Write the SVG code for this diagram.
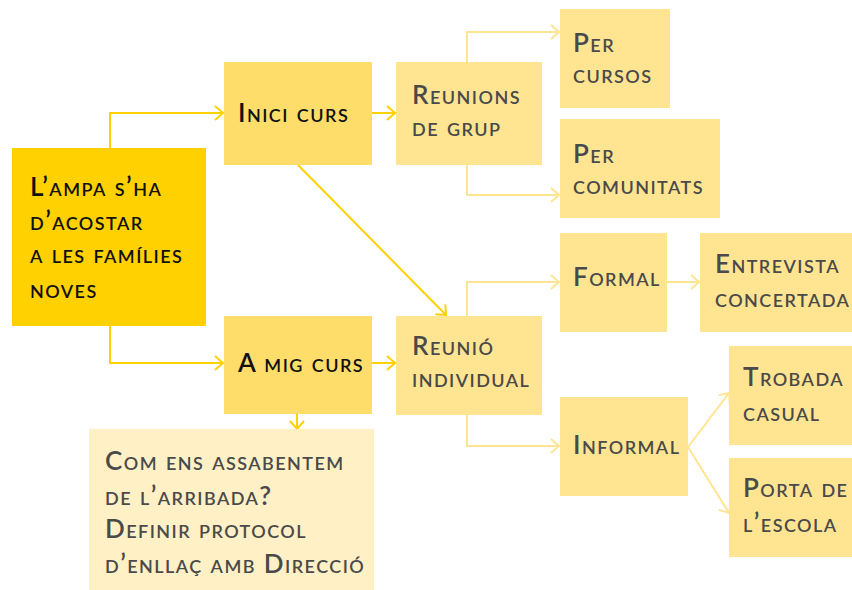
<svg xmlns="http://www.w3.org/2000/svg" width="852" height="590" viewBox="0 0 852 590">
<style>
text{font-family:Lato,"Open Sans",sans-serif;font-variant:small-caps;font-size:26px;font-weight:600;fill:#4a4a4a;letter-spacing:1.45px}
.dk{fill:#111}
.c1{fill:none;stroke:#FFD100;stroke-width:2}
.c2{fill:none;stroke:#FFE592;stroke-width:2}
.n0{fill:#FFD100}.n1{fill:#FFDD6A}.n2{fill:#FFE592}.n3{fill:#FFF0C6}
</style>
<defs>
<marker id="a1" markerUnits="userSpaceOnUse" markerWidth="20" markerHeight="20" refX="10" refY="10" orient="auto"><path d="M2,3 L10,10 L2,17" fill="none" stroke="#FFD100" stroke-width="2"/></marker>
<marker id="a2" markerUnits="userSpaceOnUse" markerWidth="20" markerHeight="20" refX="10" refY="10" orient="auto"><path d="M2,3 L10,10 L2,17" fill="none" stroke="#FFE592" stroke-width="2"/></marker>
</defs>
<g id="connectors">
<path class="c1" d="M110,148 V113 H223" marker-end="url(#a1)"/>
<path class="c1" d="M110,326 V363 H223" marker-end="url(#a1)"/>
<path class="c1" d="M372,113 H395" marker-end="url(#a1)"/>
<path class="c1" d="M372,363 H395" marker-end="url(#a1)"/>
<path class="c1" d="M298,165 L446,315" marker-end="url(#a1)"/>
<path class="c1" d="M297,414 V429" marker-end="url(#a1)"/>
<path class="c2" d="M467,62 V32 H559" marker-end="url(#a2)"/>
<path class="c2" d="M467,165 V195 H559" marker-end="url(#a2)"/>
<path class="c2" d="M467,316 V282 H559" marker-end="url(#a2)"/>
<path class="c2" d="M467,415 V446 H559" marker-end="url(#a2)"/>
<path class="c2" d="M667,282 H699" marker-end="url(#a2)"/>
<path class="c2" d="M688,447 L729,393" marker-end="url(#a2)"/>
<path class="c2" d="M688,447 L729,513" marker-end="url(#a2)"/>
</g>
<g id="main"><rect class="n0" x="12" y="148" width="194" height="178"/>
<text class="dk" x="30" y="196">L’ampa s’ha</text><text class="dk" x="30" y="230">d’acostar</text><text class="dk" x="30" y="263">a les famílies</text><text class="dk" x="30" y="298">noves</text></g>
<g id="inici"><rect class="n1" x="224" y="62" width="148" height="103"/><text class="dk" x="238" y="122">Inici curs</text></g>
<g id="amig"><rect class="n1" x="224" y="316" width="148" height="98"/><text class="dk" x="238" y="372">A mig curs</text></g>
<g id="reunions"><rect class="n2" x="396" y="62" width="146" height="103"/><text x="412" y="104">Reunions</text><text x="412" y="136">de grup</text></g>
<g id="percursos"><rect class="n2" x="560" y="9" width="110" height="99"/><text x="573" y="52">Per</text><text x="573" y="83">cursos</text></g>
<g id="percomunitats"><rect class="n2" x="560" y="119" width="160" height="99"/><text x="573" y="163">Per</text><text x="573" y="194">comunitats</text></g>
<g id="reunio"><rect class="n2" x="396" y="316" width="146" height="99"/><text x="412" y="355">Reunió</text><text x="412" y="387">individual</text></g>
<g id="formal"><rect class="n2" x="560" y="233" width="107" height="99"/><text x="573" y="286">Formal</text></g>
<g id="entrevista"><rect class="n2" x="700" y="233" width="152" height="99"/><text x="715" y="273">Entrevista</text><text x="715" y="307">concertada</text></g>
<g id="informal"><rect class="n2" x="560" y="397" width="128" height="99"/><text x="573" y="454">Informal</text></g>
<g id="trobada"><rect class="n2" x="729" y="346" width="123" height="99"/><text x="743" y="386">Trobada</text><text x="743" y="421">casual</text></g>
<g id="porta"><rect class="n2" x="729" y="458" width="123" height="99"/><text x="743" y="497">Porta de</text><text x="743" y="532">l’escola</text></g>
<g id="note"><rect class="n3" x="89" y="429" width="285" height="161"/>
<text x="105" y="470">Com ens assabentem</text><text x="105" y="505">de l’arribada?</text><text x="105" y="538">Definir protocol</text><text x="105" y="573">d’enllaç amb Direcció</text></g>
</svg>
